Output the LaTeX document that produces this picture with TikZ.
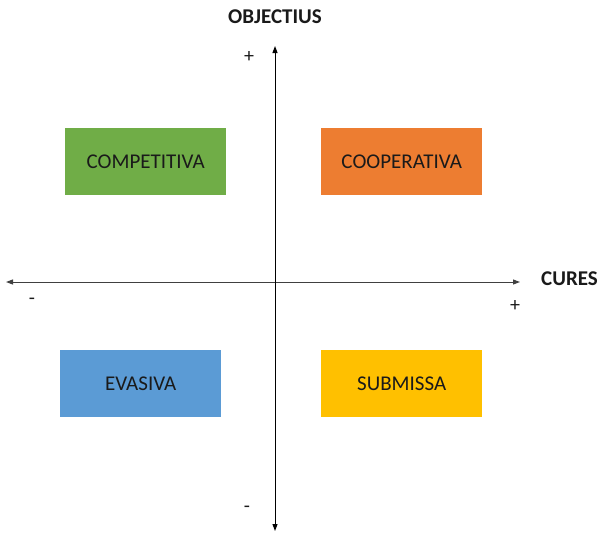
\documentclass[tikz,border=0pt]{standalone}
\usepackage{fontspec}
\setmainfont{Carlito}
\usetikzlibrary{arrows.meta}
\definecolor{cgreen}{HTML}{70AD47}
\definecolor{corange}{HTML}{ED7D31}
\definecolor{cblue}{HTML}{5B9BD5}
\definecolor{cyellow}{HTML}{FFC000}
\definecolor{ctext}{HTML}{1A1A1A}
\begin{document}
\begin{tikzpicture}[x=1pt,y=-1pt,
  quad/.style={draw=none,minimum width=161pt,minimum height=67pt,inner sep=0pt,font=\fontsize{21}{24}\selectfont,text=ctext},
  axis/.style={line width=1pt,-{Triangle[length=7pt,width=5pt]}},
  sign/.style={font=\fontsize{20}{22}\selectfont,inner sep=0pt,text=ctext},
  title/.style={font=\bfseries\fontsize{21}{24}\selectfont,inner sep=0pt,text=ctext}]
\useasboundingbox (0,0) rectangle (601,533);
\node[quad,fill=cgreen,anchor=north west] (comp) at (65,128) {COMPETITIVA};
\node[quad,fill=corange,anchor=north west] (coop) at (321,128) {COOPERATIVA};
\node[quad,fill=cblue,anchor=north west] (evas) at (60,350) {EVASIVA};
\node[quad,fill=cyellow,anchor=north west] (subm) at (321,350) {SUBMISSA};
\coordinate (c) at (275,282);
\coordinate (xl) at (6,282);
\coordinate (xr) at (520,282);
\coordinate (yt) at (275,46);
\coordinate (yb) at (275,531);
\draw[axis,black!75] (c) -- (xl);
\draw[axis,black!75] (c) -- (xr);
\draw[axis] (c) -- (yt);
\draw[axis] (c) -- (yb);
\node[title] (obj) at (275,16.5) {OBJECTIUS};
\node[title,anchor=west] (cur) at (541,279) {CURES};
\node[sign] (pt) at (249,57) {+};
\node[sign] (mb) at (247,509) {-};
\node[sign] (ml) at (32,301) {-};
\node[sign] (pr) at (515,306) {+};
\end{tikzpicture}
\end{document}
